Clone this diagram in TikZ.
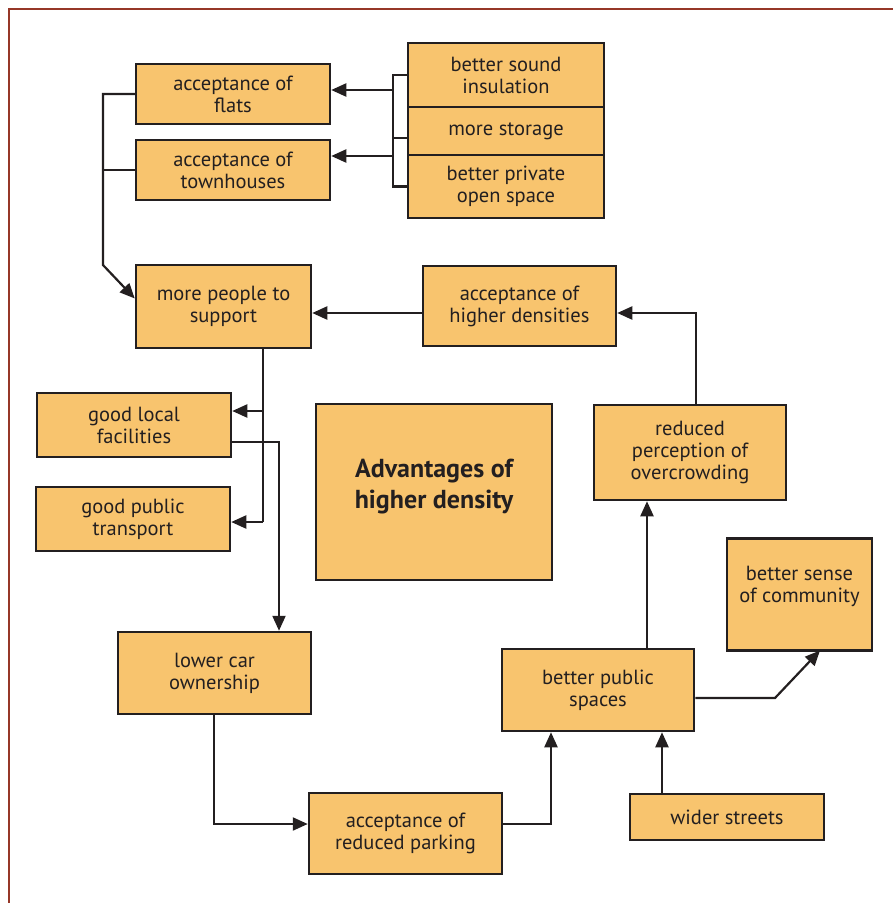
\documentclass[tikz,border=0pt]{standalone}
\usepackage{fontspec}
\setmainfont{PT Sans}
\usetikzlibrary{arrows.meta}
\definecolor{boxfill}{RGB}{248,196,110}
\definecolor{ink}{RGB}{35,31,32}
\definecolor{frame}{RGB}{150,55,40}
\begin{document}
\begin{tikzpicture}[x=1pt,y=-1pt,
  box/.style={draw=ink,fill=boxfill,line width=2.5pt,align=center,inner sep=0pt,
    text=ink,font=\fontsize{20.5}{22}\selectfont},
  conn/.style={draw=ink,line width=2.2pt},
  arr/.style={conn,-{Triangle[length=15pt,width=13pt]}}]
\useasboundingbox (0,0) rectangle (893,903);
\draw[frame,line width=2pt] (9,903) -- (9,9) -- (893,9);

\node[box,minimum width=194,minimum height=60] (flats) at (233,94) {acceptance of\\flats};
\node[box,minimum width=194,minimum height=60] (town) at (233,170) {acceptance of\\townhouses};
\node[box,minimum width=196,minimum height=64] (sound) at (506,75) {better sound\\insulation};
\node[box,minimum width=196,minimum height=48] (storage) at (506,131) {more storage};
\node[box,minimum width=196,minimum height=63] (private) at (506,186.5) {better private\\open space};
\node[box,minimum width=175,minimum height=83] (people) at (223.5,306.5) {more people to\\support};
\node[box,minimum width=193,minimum height=80] (higher) at (519.5,306) {acceptance of\\higher densities};
\node[box,minimum width=192,minimum height=95] (percep) at (690,452.5) {reduced\\perception of\\overcrowding};
\node[box,minimum width=236,minimum height=176] (adv) at (434,492) {};
\node[align=center,inner sep=0pt,text=ink,font=\fontsize{26}{31}\selectfont\bfseries] (advtext) at (434,487) {Advantages of\\higher density};
\node[box,minimum width=194,minimum height=64] (local) at (134,425) {good local\\facilities};
\node[box,minimum width=194,minimum height=64] (transport) at (133,519) {good public\\transport};
\node[box,minimum width=193,minimum height=82] (car) at (214.5,673) {lower car\\ownership};
\node[box,minimum width=193,minimum height=81] (parking) at (405.5,833.5) {acceptance of\\reduced parking};
\node[box,minimum width=192,minimum height=82] (public) at (598,690) {better public\\spaces};
\node[box,minimum width=194,minimum height=46] (wider) at (727,817) {wider streets};
\node[box,minimum width=145,minimum height=112] (comm) at (799.5,594.5) {};
\node[align=center,inner sep=0pt,text=ink,font=\fontsize{20.5}{22}\selectfont] (commtext) at (799.5,586) {better sense\\of community};

% bracket on the right group
\coordinate (bk) at (393,0);
\draw[conn] (sound.west) -- (sound.west -| bk) -- (private.west -| bk) -- (private.west);
\draw[conn] ([yshift=-7pt]storage.west -| bk) -- ([yshift=-7pt]storage.west);
\coordinate (a1) at (393,90);
\coordinate (a2) at (393,156);
\draw[arr] (a1) -- (flats.east |- a1);
\draw[arr] (a2) -- (town.east |- a2);

% left connector to people
\coordinate (lv) at (103,265);
\draw[conn] (town.west) -- (town.west -| lv);
\draw[arr] (flats.west) -- (flats.west -| lv) -- (lv) -- ([yshift=8pt]people.west);

% higher -> people
\coordinate (hy) at (0,313);
\draw[arr] (higher.west |- hy) -- (people.east |- hy);
\coordinate (pv) at (696,313);
\draw[arr] (percep.north -| pv) -- (pv) -- (higher.east |- pv);

% people -> local, transport
\coordinate (dv) at (263,411);
\coordinate (dv2) at (263,522);
\draw[conn] (people.south -| dv) -- (dv2);
\draw[arr] (dv) -- (local.east |- dv);
\draw[arr] (dv2) -- (transport.east |- dv2);

% local -> car
\coordinate (lc) at (279,442);
\draw[arr] (local.east |- lc) -- (lc) -- (car.north -| lc);

% car -> parking
\coordinate (cp) at (214,824);
\draw[arr] (car.south -| cp) -- (cp) -- (parking.west |- cp);

% parking -> public
\coordinate (pp) at (551,824);
\draw[arr] (parking.east |- pp) -- (pp) -- (public.south -| pp);

% wider -> public
\coordinate (wp) at (662,0);
\draw[arr] (wider.north -| wp) -- (public.south -| wp);

% public -> percep
\coordinate (up) at (647,0);
\draw[arr] (public.north -| up) -- (percep.south -| up);

% public -> community
\coordinate (pc) at (775,698);
\draw[arr] (public.east |- pc) -- (pc) -- (820,650.5);
\end{tikzpicture}
\end{document}
